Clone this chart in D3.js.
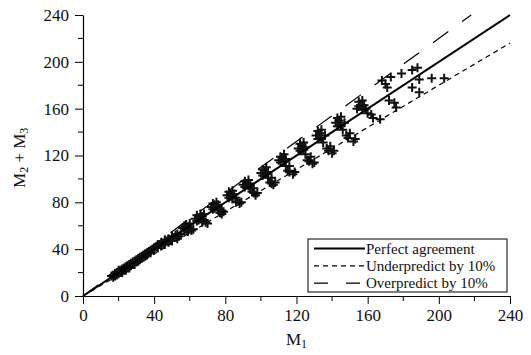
<!DOCTYPE html>
<html>
<head>
<meta charset="utf-8">
<script src="https://cdn.jsdelivr.net/npm/d3@7"></script>
<style>
body { margin: 0; background: #fff; }
svg { display: block; font-family: "Liberation Serif", "Times New Roman", serif; }
</style>
</head>
<body>
<div id="chart"></div>
<script>
// data: [M1, M2 + M3]
const denseLow = [[16,17],[17,18],[17,16],[18,19],[18,17],[19,20],[19,18],[20,21],[20,19],[20,22],[21,20],[21,22],[22,23],[22,21],[22,20],[23,24],[23,22],[24,25],[24,23],[24,22],[25,26],[25,24],[26,27],[26,25],[26,24],[27,28],[27,26],[28,29],[28,27],[29,30],[29,27],[30,31],[30,29],[31,32],[31,30],[32,33],[32,31],[33,34],[33,32],[34,35],[34,33],[35,36],[35,34],[36,37],[36,35],[37,38],[38,39],[38,37],[39,40],[40,41],[40,39],[41,42],[42,44],[42,41]]
const denseMid = [[43,44],[44,46],[44,43],[45,45],[46,48],[46,44],[47,47],[48,49],[48,46],[49,48],[50,51],[50,47],[51,50],[52,52],[53,53],[53,49],[54,51],[55,53],[56,58],[57,60],[57,56],[58,61],[58,57],[59,59],[59,55],[60,62],[60,57],[61,56],[62,57]]
const clusters = [
  [[63,66],[64,69],[64,64],[65,67],[65,65],[66,70],[66,66],[67,68],[67,63],[68,65],[68,70],[69,63],[70,62]],
  [[72,76],[73,79],[73,74],[74,77],[74,75],[75,80],[75,76],[76,74],[76,78],[77,71],[78,73],[78,70],[79,72]],
  [[81,86],[82,89],[82,84],[83,87],[83,85],[84,90],[84,83],[85,87],[86,80],[86,84],[87,81],[88,79],[89,80]],
  [[90,95],[91,98],[91,93],[92,96],[93,99],[93,94],[94,92],[94,96],[95,89],[96,88],[96,92],[97,86],[98,88]],
  [[100,105],[101,108],[101,103],[102,107],[103,110],[103,104],[104,101],[104,106],[105,97],[106,96],[106,101],[107,95],[108,97]],
  [[110,116],[111,119],[111,114],[112,118],[113,121],[113,115],[114,111],[114,117],[115,107],[116,106],[116,111],[118,104],[119,106]],
  [[121,126],[122,130],[122,124],[123,128],[124,131],[124,125],[125,121],[125,127],[126,116],[127,115],[128,119],[129,113],[130,114]],
  [[131,137],[132,141],[132,134],[133,139],[134,142],[134,135],[135,131],[136,137],[137,126],[138,124],[139,128],[140,122],[141,124]],
  [[142,148],[143,152],[143,145],[144,150],[145,153],[145,146],[146,142],[147,148],[148,137],[149,135],[150,139],[152,132],[153,134]],
  [[154,160],[155,166],[155,162],[156,163],[157,167],[157,159],[158,163],[159,160],[160,156],[162,155],[163,152],[167,151]]
]
const topGroup = [[168,184],[170,181],[171,178],[173,187],[179,190],[185,193],[188,195],[185,178],[189,185],[196,186],[203,186],[189,174],[172,167],[175,165],[176,161]]

const xTicks = [0, 40, 80, 120, 160, 200, 240]
const yTicks = [0, 40, 80, 120, 160, 200, 240]
const minorTicks = [20, 60, 100, 140, 180, 220]
const refLines = [
  {label: 'Perfect agreement', ratio: 1.0, dash: null, width: 2},
  {label: 'Underpredict by 10%', ratio: 0.9, dash: '5,4', width: 1.2},
  {label: 'Overpredict by 10%', ratio: 1.1, dash: '19,17', width: 1.2}
]

const points = denseLow.concat(denseMid, ...clusters, topGroup)

const size = {width: 531, height: 355, margin: {left: 83, right: 21, top: 15, bottom: 59}}

const svg = d3.select('#chart').append('svg')
  .attr('width', size.width)
  .attr('height', size.height)

const x = d3.scaleLinear().domain([0, 240]).range([size.margin.left, size.width - size.margin.right])
const y = d3.scaleLinear().domain([0, 240]).range([size.height - size.margin.bottom, size.margin.top])

// points
const arm = 4.5
svg.append('g')
  .selectAll('path')
  .data(points)
  .join('path')
  .attr('d', d => `M${x(d[0]) - arm},${y(d[1])}H${x(d[0]) + arm}M${x(d[0])},${y(d[1]) - arm}V${y(d[1]) + arm}`)
  .attr('stroke', '#111')
  .attr('stroke-width', 2)
  .attr('fill', 'none')

// reference lines, clipped at 240 on both axes
svg.append('g')
  .selectAll('line')
  .data(refLines)
  .join('line')
  .attr('x1', x(0))
  .attr('y1', y(0))
  .attr('x2', d => x(Math.min(240, 240 / d.ratio)))
  .attr('y2', d => y(Math.min(240, 240 * d.ratio)))
  .attr('stroke', '#000')
  .attr('stroke-width', d => d.width)
  .attr('stroke-dasharray', d => d.dash)

// axes
const xAxis = d3.axisBottom(x).tickValues(xTicks).tickSize(8).tickSizeOuter(0).tickPadding(5)
const yAxis = d3.axisLeft(y).tickValues(yTicks).tickSize(8).tickSizeOuter(0).tickPadding(6)

const gX = svg.append('g')
  .attr('transform', `translate(0,${y(0)})`)
  .call(xAxis)
gX.append('g').selectAll('line').data(minorTicks).join('line')
  .attr('x1', d => x(d)).attr('x2', d => x(d))
  .attr('y1', 0).attr('y2', 5)
  .attr('stroke', '#000')

const gY = svg.append('g')
  .attr('transform', `translate(${x(0)},0)`)
  .call(yAxis)
gY.append('g').selectAll('line').data(minorTicks).join('line')
  .attr('y1', d => y(d)).attr('y2', d => y(d))
  .attr('x1', 0).attr('x2', -5)
  .attr('stroke', '#000')

svg.selectAll('.domain').attr('stroke', '#000').attr('stroke-width', 1.2)
svg.selectAll('.tick line').attr('stroke', '#000').attr('stroke-width', 1)
svg.selectAll('.tick text')
  .attr('font-family', '"Liberation Serif", serif')
  .attr('font-size', 17)
  .attr('fill', '#111')

// axis titles
const xTitle = svg.append('text')
  .attr('x', x(120))
  .attr('y', 345)
  .attr('text-anchor', 'middle')
  .attr('font-size', 17)
  .attr('fill', '#111')
xTitle.append('tspan').text('M')
xTitle.append('tspan').attr('font-size', 12).attr('dy', 3).text('1')

const yTitle = svg.append('text')
  .attr('transform', `translate(25,${y(118)}) rotate(-90)`)
  .attr('text-anchor', 'middle')
  .attr('font-size', 17)
  .attr('fill', '#111')
yTitle.append('tspan').text('M')
yTitle.append('tspan').attr('font-size', 12).attr('dy', 3).text('2')
yTitle.append('tspan').attr('dy', -3).text(' + M')
yTitle.append('tspan').attr('font-size', 12).attr('dy', 3).text('3')

// legend
const legend = svg.append('g').attr('transform', 'translate(308,239)')
legend.append('rect')
  .attr('width', 199)
  .attr('height', 53)
  .attr('fill', '#fff')
  .attr('stroke', '#000')
  .attr('stroke-width', 1)
const rows = legend.selectAll('g.row')
  .data(refLines)
  .join('g')
  .attr('class', 'row')
  .attr('transform', (d, i) => `translate(0,${9.5 + i * 17.3})`)
rows.append('line')
  .attr('x1', 6).attr('x2', 57)
  .attr('stroke', '#000')
  .attr('stroke-width', d => d.width)
  .attr('stroke-dasharray', d => d.dash == '19,17' ? '14,18' : d.dash)
rows.append('text')
  .attr('x', 58)
  .attr('y', 5)
  .attr('font-size', 15)
  .attr('fill', '#111')
  .text(d => d.label)
</script>
</body>
</html>
